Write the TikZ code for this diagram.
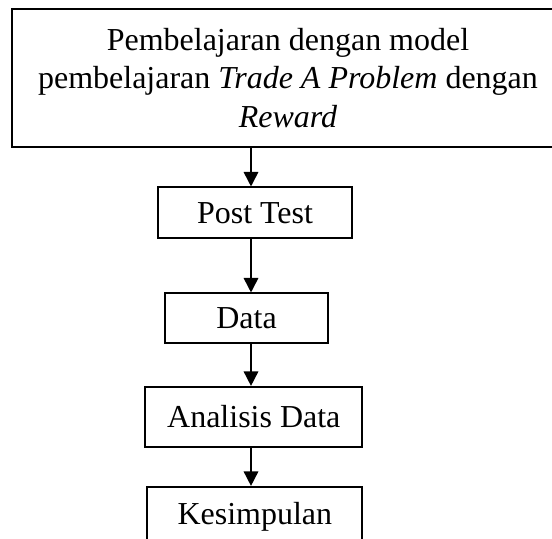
\documentclass[tikz,border=0pt]{standalone}
\usepackage{fontspec}
\setmainfont{Liberation Serif}
\usetikzlibrary{arrows.meta,positioning,calc}

\begin{document}
\begin{tikzpicture}[
            box/.style={
                    draw=black,
                    fill=white,
                    rectangle,
                    line width=0.95pt,
                    inner sep=0pt,
                    align=center,
                    font=\fontsize{18.2}{22}\selectfont
                },
            arrow/.style={
                    -{Triangle[length=0.29cm,width=0.29cm]},
                    color=black,
                    line width=0.95pt
                }
            ]

            \useasboundingbox (0,0) rectangle (11.04,-10.76);

            % eje vertical de las flechas
            \coordinate (axis) at (5.02,0);

            % 1. Pembelajaran (Superior)
            \node[box, minimum width=11.03cm, minimum height=2.75cm] (pModel) at (5.76,-1.56) {
                Pembelajaran dengan model \\
                pembelajaran \textit{Trade A Problem} dengan \\
                \textit{Reward}
            };

            % 2. Post Test
            \node[box, minimum width=3.89cm, minimum height=1.02cm] (postTest) at (5.10,-4.256) {Post Test};

            % 3. Data
            \node[box, minimum width=3.26cm, minimum height=1.0cm] (data) at (4.93,-6.366) {Data};

            % 4. Analisis Data
            \node[box, minimum width=4.34cm, minimum height=1.21cm] (analisisData) at (5.076,-8.34) {Analisis Data};

            % 5. Kesimpulan (Inferior)
            \node[box, minimum width=4.30cm, minimum height=1.21cm] (kesimpulan) at (5.096,-10.34) {Kesimpulan};

            % --- CONEXIONES ---
            \draw[arrow] (pModel.south -| axis) -- (postTest.north -| axis);
            \draw[arrow] (postTest.south -| axis) -- (data.north -| axis);
            \draw[arrow] (data.south -| axis) -- (analisisData.north -| axis);
            \draw[arrow] (analisisData.south -| axis) -- (kesimpulan.north -| axis);

        \end{tikzpicture}
\end{document}
